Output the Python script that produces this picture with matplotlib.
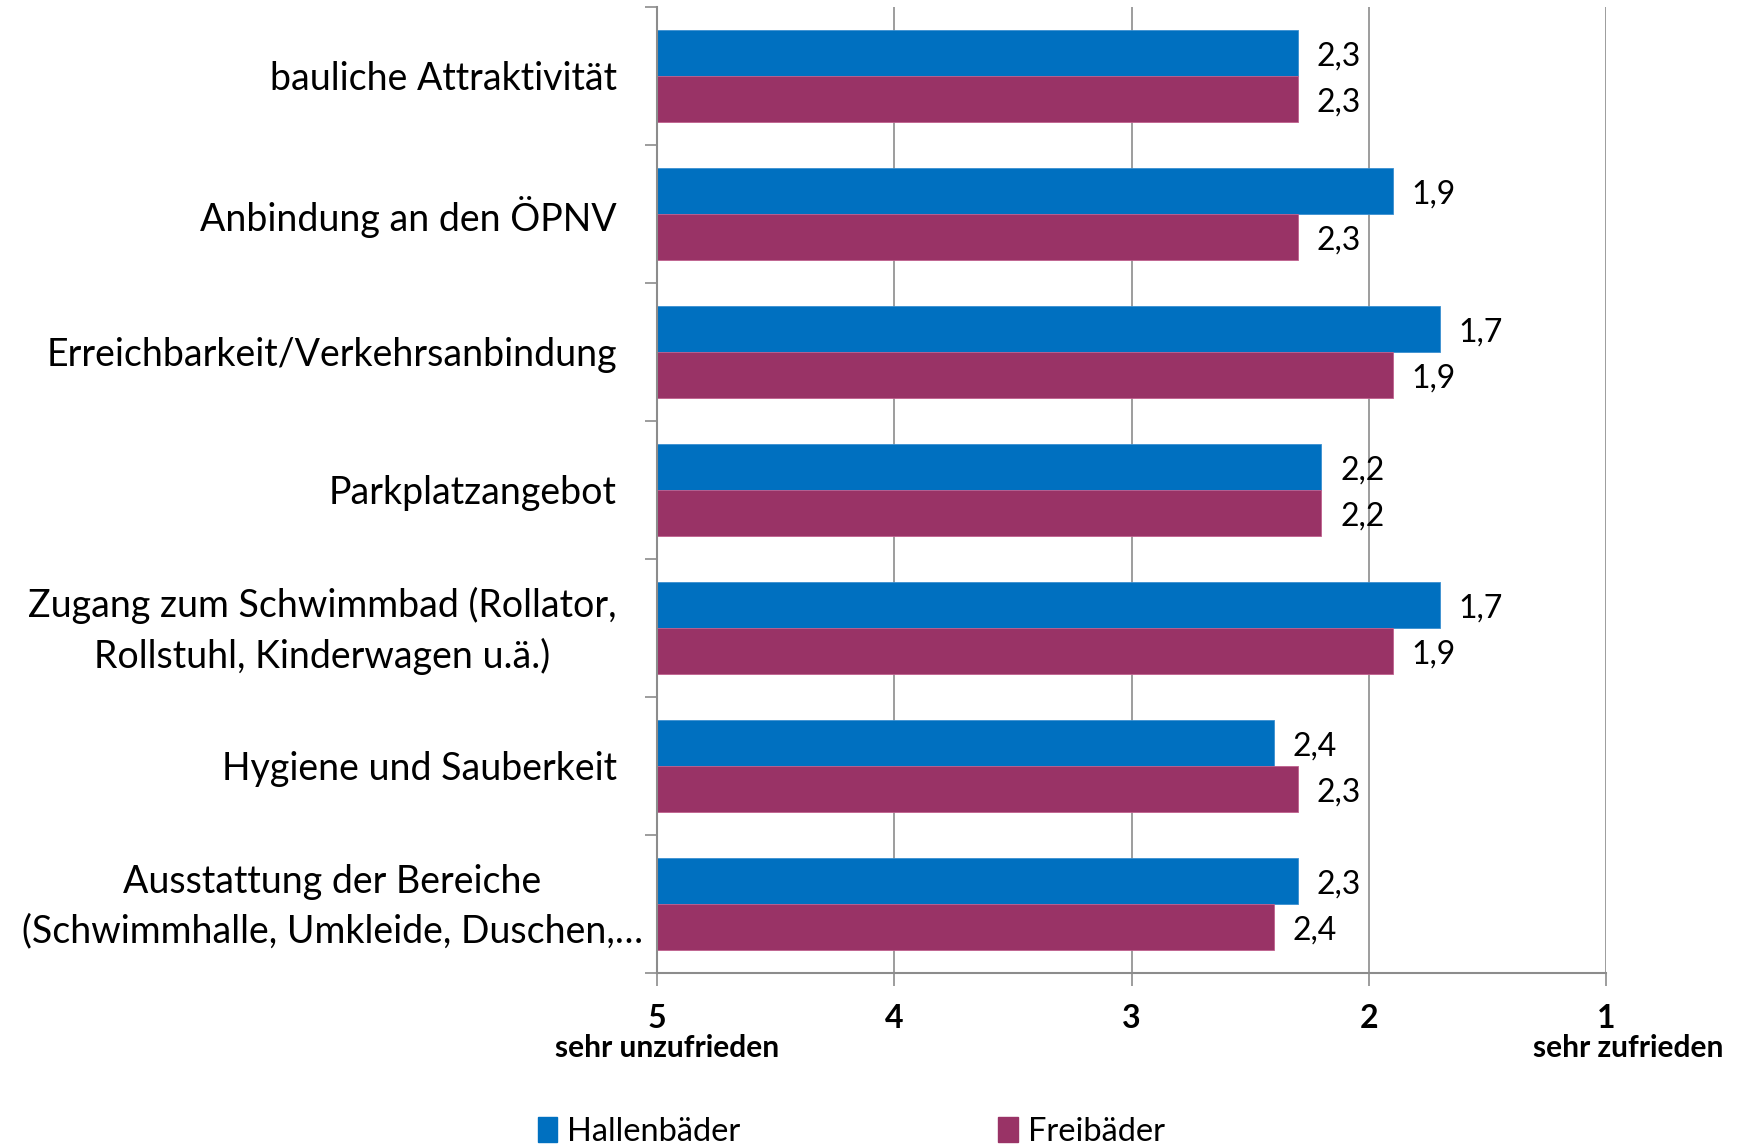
import matplotlib
matplotlib.use("Agg")
import matplotlib.pyplot as plt
from matplotlib.patches import Patch
import matplotlib.transforms as mtransforms

plt.rcParams['font.family'] = ['Lato', 'DejaVu Sans']

categories = [
    "bauliche Attraktivität",
    "Anbindung an den ÖPNV",
    "Erreichbarkeit/Verkehrsanbindung",
    "Parkplatzangebot",
    "Zugang zum Schwimmbad (Rollator,\nRollstuhl, Kinderwagen u.ä.)",
    "Hygiene und Sauberkeit",
    "Ausstattung der Bereiche\n(Schwimmhalle, Umkleide, Duschen,…",
]
hallen = [2.3, 1.9, 1.7, 2.2, 1.7, 2.4, 2.3]
frei = [2.3, 2.3, 1.9, 2.2, 1.9, 2.3, 2.4]
series_names = ["Hallenbäder", "Freibäder"]
xticks = [5, 4, 3, 2, 1]
xtick_labels = ["5", "4", "3", "2", "1"]
scale_names = {5: "sehr unzufrieden", 1: "sehr zufrieden"}

blue = "#0070C0"
purple = "#993366"
grid_c = "#8C8C8C"

fig = plt.figure(figsize=(17.48, 11.46), dpi=100)
ax = fig.add_axes([0.3759, 0.151, 0.9188 - 0.3759, 0.9939 - 0.151])

h = 0.335
for i, (vh, vf) in enumerate(zip(hallen, frei)):
    ax.barh(i - h / 2, 5 - vh, left=vh, height=h, color=blue, edgecolor="#3a8fd0", linewidth=0.6)
    ax.barh(i + h / 2, 5 - vf, left=vf, height=h, color=purple, edgecolor="#c0608e", linewidth=0.6)
    ax.annotate(f"{vh:.1f}".replace(".", ","), xy=(vh, i - h / 2), xytext=(13.5, -2.5),
                textcoords="offset points", ha="left", va="center", fontsize=23)
    ax.annotate(f"{vf:.1f}".replace(".", ","), xy=(vf, i + h / 2), xytext=(13.5, -2.5),
                textcoords="offset points", ha="left", va="center", fontsize=23)

ax.set_xlim(5, 1)
ax.set_ylim(len(categories) - 0.5, -0.5)

ax.set_xticks(xticks)
ax.set_xticklabels(xtick_labels, fontsize=23, fontweight="bold")
ax.tick_params(axis="x", length=9, color=grid_c, width=1.2, pad=13)
ax.xaxis.grid(True, color=grid_c, linewidth=1.2)
ax.set_axisbelow(True)

ax.set_yticks([i - 0.5 for i in range(len(categories) + 1)])
ax.set_yticklabels([])
ax.tick_params(axis="y", length=9, color=grid_c, width=1.2)

for s in ["top", "right"]:
    ax.spines[s].set_visible(False)
for s in ["left", "bottom"]:
    ax.spines[s].set_color(grid_c)
    ax.spines[s].set_linewidth(1.5)

# category labels
trans = mtransforms.blended_transform_factory(ax.transAxes, ax.transData)
for i, c in enumerate(categories):
    if i == len(categories) - 1:
        ax.annotate(c, xy=(0, i), xycoords=trans, xytext=(-234, -2), textcoords="offset points",
                    ha="center", va="center", multialignment="center", fontsize=27, linespacing=1.45)
    else:
        ax.annotate(c, xy=(0, i), xycoords=trans, xytext=(-29, -2), textcoords="offset points",
                    ha="right", va="center", multialignment="center", fontsize=27, linespacing=1.45)

# scale end labels
trans2 = mtransforms.blended_transform_factory(ax.transData, fig.transFigure)
ax.annotate(scale_names[5], xy=(5, 1 - 1048 / 1146), xycoords=trans2, xytext=(7, 0),
            textcoords="offset points", ha="center", va="center", fontsize=21.5, fontweight="bold")
ax.annotate(scale_names[1], xy=(1, 1 - 1048 / 1146), xycoords=trans2, xytext=(16, 0),
            textcoords="offset points", ha="center", va="center", fontsize=21.5, fontweight="bold")

handles = [Patch(color=blue), Patch(color=purple)]
fig.legend(handles, series_names, loc="center", bbox_to_anchor=(0.487, 1 - 1132 / 1146), ncol=2,
           frameon=False, fontsize=23.5, handlelength=0.6, handleheight=0.8, handletextpad=0.3,
           columnspacing=7.9)

fig.savefig("out.png", dpi=100)
